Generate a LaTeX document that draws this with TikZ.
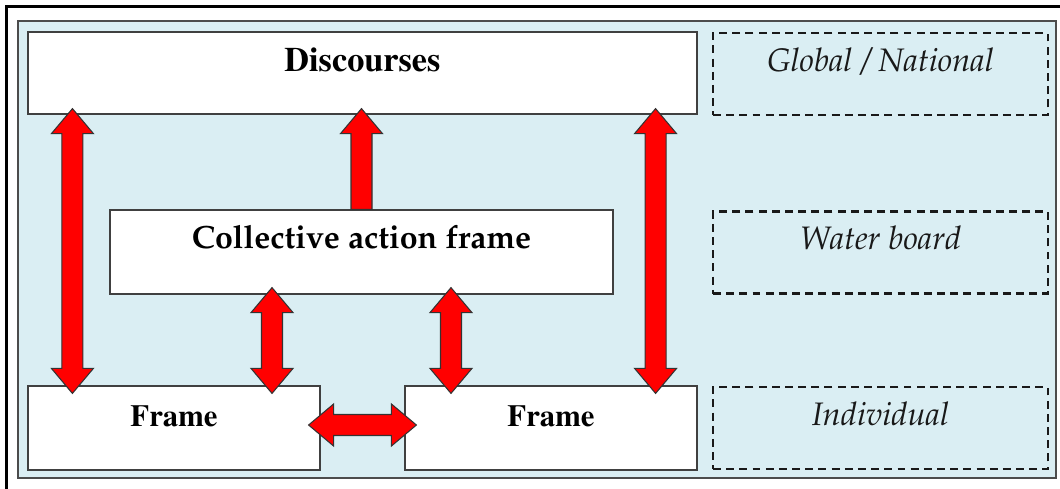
\documentclass[tikz,border=0pt]{standalone}
\usepackage[T1]{fontenc}
\usepackage{mathpazo}
\usetikzlibrary{calc}
\definecolor{paleblue}{HTML}{DAEEF3}
\newcommand\timesbf{\fontfamily{ptm}\bfseries}
\newcommand\fathl{0.5cm}
\newcommand\fathw{0.42cm}
\newcommand\fatsw{0.21cm}
% fat outlined arrows between two named points
\newcommand\fatdouble[2]{%
  \coordinate (fa) at ($(#1)!\fathl!(#2)$);
  \coordinate (fb) at ($(#2)!\fathl!(#1)$);
  \draw[fatarrow] (#1) -- ($(fa)!\fathw!90:(#2)$) -- ($(fa)!\fatsw!90:(#2)$)
    -- ($(fb)!\fatsw!90:(#2)$) -- ($(fb)!\fathw!90:(#2)$) -- (#2)
    -- ($(fb)!\fathw!-90:(#2)$) -- ($(fb)!\fatsw!-90:(#2)$)
    -- ($(fa)!\fatsw!-90:(#2)$) -- ($(fa)!\fathw!-90:(#2)$) -- cycle;}
\newcommand\fatsingle[2]{%
  \coordinate (fb) at ($(#2)!\fathl!(#1)$);
  \draw[fatarrow] ($(#1)!\fatsw!90:(#2)$) -- ($(fb)!\fatsw!90:(#2)$)
    -- ($(fb)!\fathw!90:(#2)$) -- (#2) -- ($(fb)!\fathw!-90:(#2)$)
    -- ($(fb)!\fatsw!-90:(#2)$) -- ($(#1)!\fatsw!-90:(#2)$) -- cycle;}
\tikzset{
  box/.style={draw=black!75, fill=white, line width=0.7pt, inner sep=0pt},
  level/.style={draw=black!90, dash pattern=on 4.5pt off 3pt, line width=1.2pt,
    inner sep=0pt, minimum width=6.7cm, minimum height=1.64cm},
  fatarrow/.style={fill=red, draw=black!80, line width=0.6pt, line join=miter},
  boldtext/.style={anchor=base, inner sep=0pt},
  leveltext/.style={anchor=base, inner sep=0pt, text=black!90,
    font=\fontsize{18.5}{22}\selectfont\itshape},
}
\begin{document}
\begin{tikzpicture}[x=0.02cm, y=-0.02cm]
      \useasboundingbox (0,0) rectangle (1060,488);
      \clip (0,0) rectangle (1060,488);
      % BACKGROUND
      \draw[line width=1.2pt] (6.5,6.5) rectangle (1080,500);
      \draw[fill=paleblue, draw=black!70, line width=0.8pt] (18,21) rectangle (1056,478);
      % BOXES
      \node[box, minimum width=13.38cm, minimum height=1.64cm] (disc) at (362.5,73) {};
      \node[box, minimum width=10.06cm, minimum height=1.68cm] (caf) at (361.5,252) {};
      \node[box, minimum width=5.84cm, minimum height=1.68cm] (frL) at (174,428) {};
      \node[box, minimum width=5.84cm, minimum height=1.68cm] (frR) at (551,428) {};
      \node[boldtext] (discT) at ([yshift=0.03cm]disc.center) {\timesbf\fontsize{19.5}{22}\selectfont Discourses};
      \node[boldtext] (cafT) at ([yshift=0.08cm]caf.center) {\bfseries\fontsize{18.3}{21}\selectfont Collective action frame};
      \node[boldtext] (frLT) at ([yshift=0.04cm]frL.center) {\timesbf\fontsize{17.5}{20}\selectfont Frame};
      \node[boldtext] (frRT) at ([yshift=0.04cm]frR.center) {\timesbf\fontsize{17.5}{20}\selectfont Frame};
      % LEVELS
      \node[level] (glob) at (880.5,74) {};
      \node[level] (water) at (880.5,252.5) {};
      \node[level] (indiv) at (880.5,428) {};
      \node[leveltext] (globT) at ([yshift=0.06cm]glob.center) {Global / National};
      \node[leveltext] (waterT) at ([yshift=0.06cm]water.center) {Water board};
      \node[leveltext] (indivT) at ([yshift=0.06cm]indiv.center) {Individual};
      % ARROWS
      \coordinate (lTop) at ([xshift=0.9cm, yshift=0.12cm]disc.south west);
      \coordinate (lBot) at ([xshift=0.9cm, yshift=-0.16cm]frL.north west);
      \coordinate (rTop) at ([xshift=-0.84cm, yshift=0.12cm]disc.south east);
      \coordinate (rBot) at ([xshift=-0.84cm, yshift=-0.16cm]frR.north east);
      \coordinate (upTip) at ([yshift=0.12cm]caf.north |- disc.south);
      \coordinate (cl) at ([xshift=-1.79cm, yshift=0.14cm]caf.south);
      \coordinate (cr) at ([xshift=1.79cm, yshift=0.14cm]caf.south);
      \coordinate (fl) at ([yshift=-0.16cm]cl |- frL.north);
      \coordinate (fr) at ([yshift=-0.16cm]cr |- frR.north);
      \coordinate (hl) at ([xshift=-0.24cm, yshift=0.06cm]frL.east);
      \coordinate (hr) at ([xshift=0.24cm, yshift=0.06cm]frR.west);
      \fatdouble{lTop}{lBot}
      \fatdouble{rTop}{rBot}
      \fatsingle{caf.north}{upTip}
      \fatdouble{cl}{fl}
      \fatdouble{cr}{fr}
      \fatdouble{hl}{hr}
\end{tikzpicture}
\end{document}
